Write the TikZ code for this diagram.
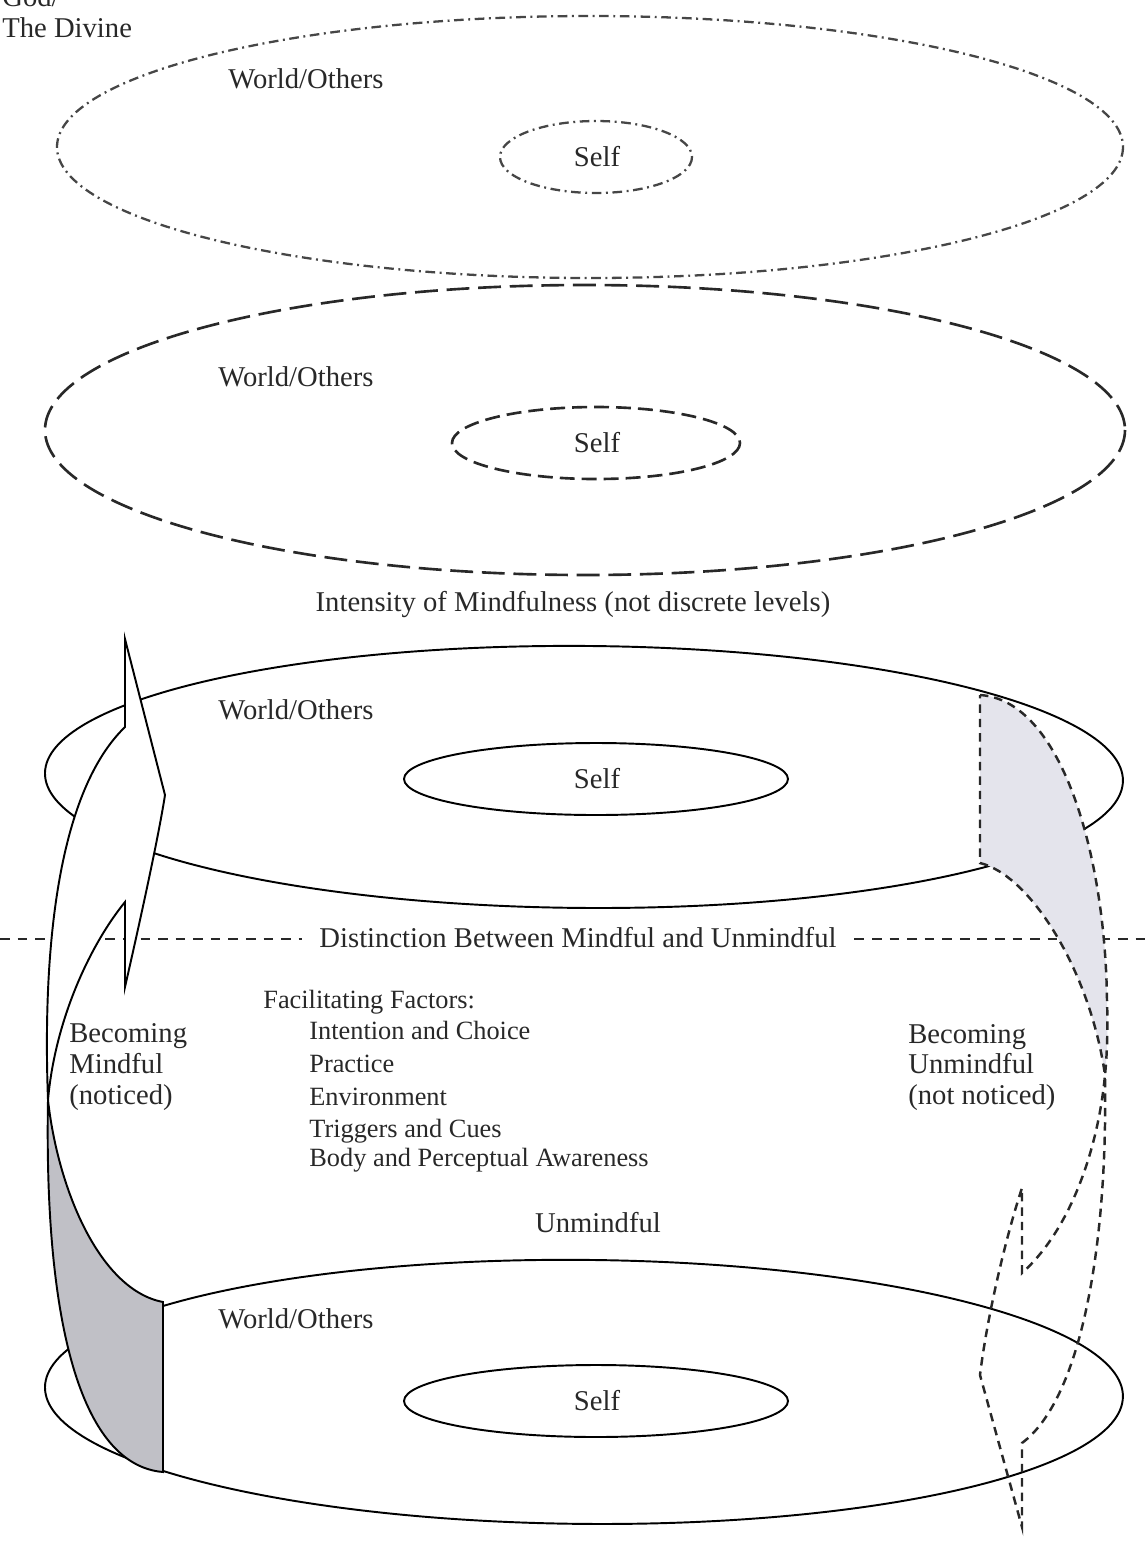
\documentclass[tikz,border=0pt]{standalone}
\usepackage{fontspec}
\setmainfont{Liberation Serif}
\usepackage{tikz}

\definecolor{inkgray}{RGB}{40,40,40}
\definecolor{dotgray}{RGB}{70,70,70}
\definecolor{foldgray}{RGB}{192,192,198}
\definecolor{fadegray}{RGB}{228,228,236}

\tikzset{
	wtext/.style={inner sep=0pt, text=inkgray, anchor=base west, font=\fontsize{16.3}{19}\selectfont},
	ctext/.style={wtext, anchor=base},
	ftext/.style={wtext, font=\fontsize{15}{18}\selectfont},
	divine/.style={draw=dotgray, line width=1.3pt, dash pattern=on 5.5pt off 2.6pt on 1.1pt off 2.6pt},
	mindful/.style={draw=inkgray, line width=1.5pt, dash pattern=on 13pt off 5pt},
	mindself/.style={draw=inkgray, line width=1.5pt, dash pattern=on 8.5pt off 4pt},
	ground/.style={draw=black, line width=1.1pt},
	divider/.style={draw=inkgray, line width=1.1pt, dash pattern=on 5.5pt off 4.5pt},
	drift/.style={draw=inkgray, line width=1.4pt, dash pattern=on 4.8pt off 3.4pt}
}

\begin{document}
\begin{tikzpicture}[x=0.02cm, y=-0.02cm]
	\useasboundingbox (0,0) rectangle (1145,1543);

	% God / the divine
	\coordinate (divine) at (590,147);
	\coordinate (divineSelf) at (596,157);
	\draw[divine] (divine) ellipse (533 and 131);
	\draw[divine] (divineSelf) ellipse (96 and 36);
	\node[wtext] (god) at (2,6) {God/};
	\node[wtext] (theDivine) at (2,37) {The Divine};
	\node[wtext] (worldD) at (228,88) {World/Others};
	\node[ctext] (selfD) at (597,166) {Self};

	% mindful
	\coordinate (mind) at (585,430);
	\coordinate (mindSelf) at (596,443);
	\draw[mindful] (mind) ellipse (540 and 145);
	\draw[mindself] (mindSelf) ellipse (144 and 36);
	\node[wtext] (worldM) at (218,386) {World/Others};
	\node[ctext] (selfM) at (597,452) {Self};

	\node[ctext] (intensity) at (573,611) {Intensity of Mindfulness (not discrete levels)};

	% upper solid level
	\coordinate (upper) at (584,777);
	\coordinate (upperSelf) at (596,779);
	\draw[ground, rotate around={-0.4:(upper)}] (upper) ellipse (539 and 131);
	\draw[ground] (upperSelf) ellipse (192 and 36);
	\node[wtext] (worldU) at (218,719) {World/Others};
	\node[ctext] (selfU) at (597,788) {Self};

	% lower solid level
	\coordinate (lower) at (584,1392);
	\coordinate (lowerSelf) at (596,1401);
	\draw[ground, rotate around={-0.5:(lower)}] (lower) ellipse (539 and 132);
	\draw[ground] (lowerSelf) ellipse (192 and 36);
	\node[wtext] (worldL) at (218,1328) {World/Others};
	\node[ctext] (selfL) at (597,1410) {Self};

	% distinction line
	\coordinate (edgeL) at (0,939);
	\coordinate (edgeR) at (1145,939);
	\node[ctext, inner xsep=10pt] (distinction) at (578,947) {Distinction Between Mindful and Unmindful};
	\draw[divider] (edgeL) -- (edgeL -| distinction.west);
	\draw[divider] (edgeR -| distinction.east) -- (edgeR);

	% becoming mindful
	\coordinate (tipL) at (125,639);
	\coordinate (shoulderL) at (125,727);
	\coordinate (barbL) at (165,795);
	\coordinate (notchLb) at (125,987);
	\coordinate (notchLt) at (125,902);
	\coordinate (twistL) at (48,1100);
	\coordinate (baseLt) at (163,1302);
	\coordinate (baseLb) at (163,1472);
	\filldraw[ground, fill=white, line join=miter] (shoulderL) -- (tipL) -- (barbL) .. controls (158,840) and (138,930) .. (notchLb) -- (notchLt) .. controls (90,945) and (55,1020) .. (twistL) .. controls (42,940) and (60,790) .. (shoulderL) -- cycle;
	\filldraw[ground, fill=foldgray] (twistL) .. controls (44,1320) and (80,1465) .. (baseLb) -- (baseLt) .. controls (100,1290) and (58,1190) .. (twistL) -- cycle;

	% becoming unmindful
	\coordinate (topR) at (980,695);
	\coordinate (midR) at (980,863);
	\coordinate (bendR) at (1107,1000);
	\coordinate (twistR) at (1105,1075);
	\coordinate (shaftR) at (1022,1443);
	\coordinate (tipR) at (1022,1527);
	\coordinate (barbR) at (980,1375);
	\coordinate (notchRt) at (1022,1188);
	\coordinate (notchRb) at (1022,1273);
	\fill[fadegray] (topR) .. controls (1060,700) and (1105,850) .. (bendR) .. controls (1108,1030) and (1107,1055) .. (twistR) .. controls (1090,970) and (1030,875) .. (midR) -- cycle;
	\draw[drift] (topR) .. controls (1060,700) and (1105,850) .. (bendR) .. controls (1108,1030) and (1107,1055) .. (twistR) .. controls (1108,1250) and (1080,1400) .. (shaftR) -- (tipR) -- (barbR) .. controls (988,1310) and (1008,1230) .. (notchRt) -- (notchRb) .. controls (1070,1230) and (1098,1150) .. (twistR) .. controls (1090,970) and (1030,875) .. (midR) -- cycle;

	% labels between the levels
	\node[wtext] (becomingM) at (69,1042) {Becoming};
	\node[wtext] (mindfulM) at (69,1073) {Mindful};
	\node[wtext] (noticedM) at (69,1104) {(noticed)};
	\node[wtext] (becomingU) at (908,1043) {Becoming};
	\node[wtext] (unmindfulU) at (908,1073) {Unmindful};
	\node[wtext] (noticedU) at (908,1104) {(not noticed)};

	\node[ftext] (factors) at (263,1008) {Facilitating Factors:};
	\node[ftext] (intention) at (309,1039) {Intention and Choice};
	\node[ftext] (practice) at (309,1072) {Practice};
	\node[ftext] (environment) at (309,1105) {Environment};
	\node[ftext] (triggers) at (309,1137) {Triggers and Cues};
	\node[ftext] (body) at (309,1166) {Body and Perceptual Awareness};

	\node[ctext] (unmindful) at (598,1232) {Unmindful};
\end{tikzpicture}
\end{document}
